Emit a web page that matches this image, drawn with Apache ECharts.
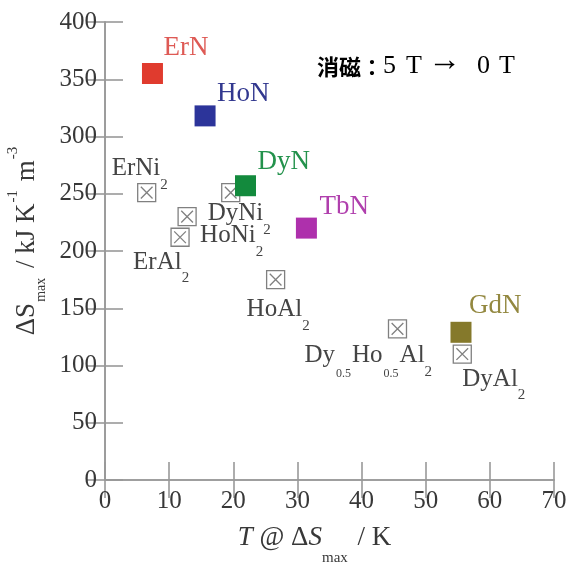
<!DOCTYPE html>
<html><head><meta charset="utf-8">
<script src="https://cdn.jsdelivr.net/npm/echarts@6/dist/echarts.min.js"></script>
<style>html,body{margin:0;padding:0;background:#fff}#c{width:572px;height:566px}</style>
</head><body><div id="c"></div>
<script>
// ---- data ----
const xTicks = [0, 10, 20, 30, 40, 50, 60, 70];
const yTicks = [0, 50, 100, 150, 200, 250, 300, 350, 400];
const nitrideNames = ['ErN', 'HoN', 'DyN', 'TbN', 'GdN'];
const nitrideT = [7.4, 15.6, 21.9, 31.4, 55.5];
const nitrideS = [355, 318, 257, 220, 129];
const refNames = ['ErNi2', 'DyNi2', 'HoNi2', 'ErAl2', 'HoAl2', 'Dy0.5Ho0.5Al2', 'DyAl2'];
const refT = [6.5, 19.6, 12.8, 11.7, 26.6, 45.6, 55.7];
const refS = [251, 251, 230, 212, 175, 132, 110];
const annotationHead = '消磁：';
const annotationParts = ['5', 'T', '→', '0', 'T'];

// ---- styles / layout ----
const SERIF = '"Liberation Serif","Times New Roman",serif';
const markerColors = {ErN:'#e03b2e', HoN:'#2c349a', DyN:'#138a3d', TbN:'#ae30ac', GdN:'#85792b'};
const labelColors  = {ErN:'#de5a55', HoN:'#32388f', DyN:'#23924c', TbN:'#b03fad', GdN:'#938840'};
const nitrideOffset = {ErN:[11,-26], HoN:[12,-22], DyN:[12,-24], TbN:[13,-21], GdN:[8,-26]};
const refOffset = {ErNi2:[-35,-24], DyNi2:[-23,21], HoNi2:[13,19], ErAl2:[-47,25],
                   HoAl2:[-29,30], 'Dy0.5Ho0.5Al2':[-93,27], DyAl2:[0,25]};

function fmt(name) {
  return name.replace(/(\d+\.\d+)|(\d+)|([^\d]+)/g, (m, a, b, c) =>
    a ? '{f|' + a + '}' : b ? '{s|' + b + '}' : '{m|' + c + '}');
}
const refRich = {
  m: {fontFamily: SERIF, fontSize: 25, color: '#444', lineHeight: 47},
  s: {fontFamily: SERIF, fontSize: 15, color: '#444', lineHeight: 15, verticalAlign: 'bottom'},
  f: {fontFamily: SERIF, fontSize: 12, color: '#444', lineHeight: 12, verticalAlign: 'bottom', padding: [0, 1, 0, 1]}
};

const crossPath = 'path://M0,0L20,0L20,20L0,20Z M3.5,3.5L16.5,16.5 M16.5,3.5L3.5,16.5';

const axisLineStyle = {color: '#999999', width: 1.6};
const tickCommon = {show: true, inside: true, length: 18, lineStyle: {color: '#999999', width: 1.6}};

const annoPad = [0, 10, 6, 16, 9]; // gaps before each part

const option = {
  backgroundColor: '#fff',
  animation: false,
  grid: {left: 105, right: 18, top: 22, bottom: 86, containLabel: false, outerBoundsMode: 'none'},
  xAxis: [{
    type: 'value', min: xTicks[0], max: xTicks[xTicks.length - 1], interval: 10,
    position: 'bottom',
    axisLine: {show: true, lineStyle: axisLineStyle},
    axisTick: tickCommon,
    splitLine: {show: false},
    axisLabel: {fontFamily: SERIF, fontSize: 25, color: '#383838', margin: 9},
    name: '{i|T}{m| @ Δ}{i|S}{s|max}{m| / K}',
    nameLocation: 'middle', nameGap: 30,
    nameTextStyle: {
      padding: [0, 30, 0, 0],
      rich: {
        m: {fontFamily: SERIF, fontSize: 27, color: '#383838', lineHeight: 56},
        i: {fontFamily: SERIF, fontSize: 27, color: '#383838', fontStyle: 'italic', lineHeight: 56},
        s: {fontFamily: SERIF, fontSize: 15, color: '#383838', lineHeight: 15, verticalAlign: 'bottom', padding: [0, 3, 0, 0]}
      }
    }
  }, {
    type: 'value', min: xTicks[0], max: xTicks[xTicks.length - 1], interval: 10,
    position: 'top',
    axisLine: {show: true, lineStyle: axisLineStyle},
    axisTick: tickCommon,
    splitLine: {show: false},
    axisLabel: {show: false}
  }],
  yAxis: [{
    type: 'value', min: yTicks[0], max: yTicks[yTicks.length - 1], interval: 50,
    position: 'left',
    axisLine: {show: true, lineStyle: axisLineStyle},
    axisTick: tickCommon,
    splitLine: {show: false},
    axisLabel: {fontFamily: SERIF, fontSize: 25, color: '#383838', margin: 8},
    name: '{m|ΔS}{s|max}{m| / kJ K}{p|-1}{m| m}{p|-3}',
    nameLocation: 'middle', nameGap: 51, nameRotate: 90,
    nameTextStyle: {
      padding: [0, 0, 0, 22],
      rich: {
        m: {fontFamily: SERIF, fontSize: 27, color: '#383838', lineHeight: 43},
        s: {fontFamily: SERIF, fontSize: 14, color: '#383838', lineHeight: 14, verticalAlign: 'bottom', padding: [0, 3, 0, 1]},
        p: {fontFamily: SERIF, fontSize: 15, color: '#383838', lineHeight: 20, verticalAlign: 'top', padding: [0, 2, 0, 1]}
      }
    }
  }, {
    type: 'value', min: yTicks[0], max: yTicks[yTicks.length - 1], interval: 50,
    position: 'right',
    axisLine: {show: true, lineStyle: axisLineStyle},
    axisTick: tickCommon,
    splitLine: {show: false},
    axisLabel: {show: false}
  }],
  graphic: [{
    type: 'text', left: 317, top: 45,
    style: {
      text: '{c|' + annotationHead + '}' +
        annotationParts.map((p, i) => '{' + (p === '→' ? 'a' : 't') + i + '|' + p + '}').join(''),
      rich: Object.assign({
        c: {fontFamily: '"Noto Sans CJK JP","Noto Sans CJK SC",sans-serif', fontSize: 22, color: '#222', fontWeight: 'bold', lineHeight: 30}
      }, ...annotationParts.map((p, i) => ({
        [(p === '→' ? 'a' : 't') + i]: p === '→'
          ? {fontFamily: SERIF, fontSize: 33, color: '#222', padding: [0, 0, 10, annoPad[i]], lineHeight: 30}
          : {fontFamily: SERIF, fontSize: 26, color: '#222', padding: [0, 0, 0, annoPad[i]], lineHeight: 30}
      })))
    }
  }],
  series: [{
    type: 'scatter',
    xAxisIndex: 0, yAxisIndex: 0,
    symbol: crossPath, symbolSize: 18,
    itemStyle: {color: 'rgba(0,0,0,0)', borderColor: '#808080', borderWidth: 1.3, opacity: 1},
    z: 2,
    data: refNames.map((n, i) => ({
      name: n, value: [refT[i], refS[i]],
      label: {
        show: true, position: 'inside', align: 'left', verticalAlign: 'middle',
        offset: refOffset[n], formatter: () => fmt(n), rich: refRich
      }
    }))
  }, {
    type: 'scatter',
    xAxisIndex: 0, yAxisIndex: 0,
    symbol: 'rect', symbolSize: 21,
    z: 3,
    data: nitrideNames.map((n, i) => ({
      name: n, value: [nitrideT[i], nitrideS[i]],
      itemStyle: {color: markerColors[n], opacity: 1},
      label: {
        show: true, position: 'inside', align: 'left', verticalAlign: 'middle',
        offset: nitrideOffset[n], formatter: n,
        fontFamily: SERIF, fontSize: 27, color: labelColors[n]
      }
    }))
  }]
};
const chart = echarts.init(document.getElementById('c'), null, {renderer: 'canvas'});
chart.setOption(option);
</script></body></html>
